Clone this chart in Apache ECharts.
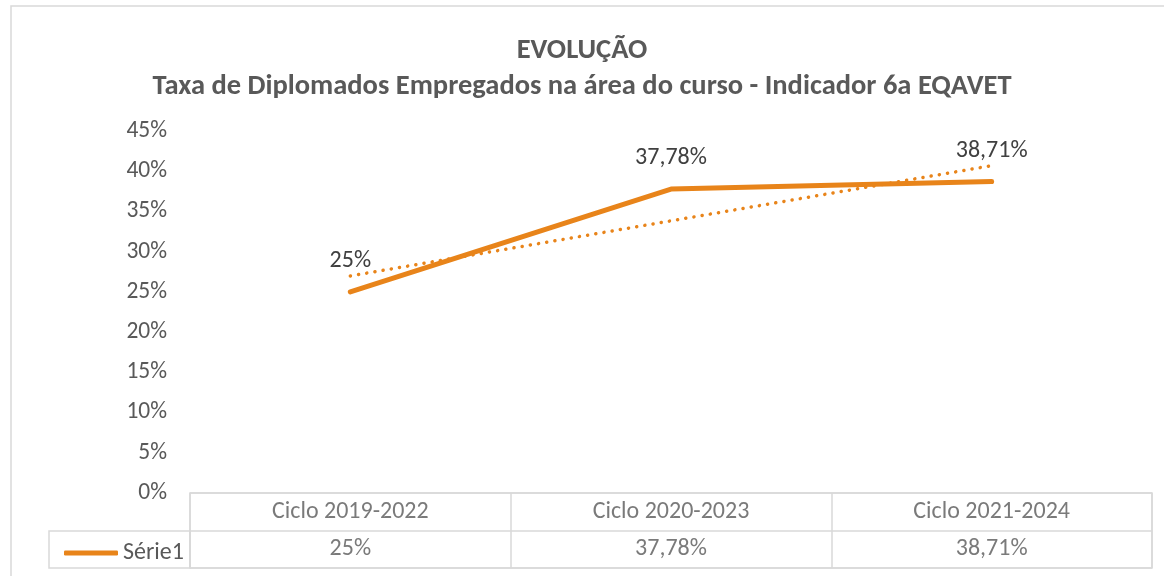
<!DOCTYPE html>
<html>
<head>
<meta charset="utf-8">
<title>Evolução</title>
<script src="https://cdn.jsdelivr.net/npm/echarts@6/dist/echarts.min.js"></script>
<style>
  html, body { margin: 0; padding: 0; background: #fff; }
  #main { width: 1164px; height: 576px; }
</style>
</head>
<body>
<div id="main"></div>
<script>
  // dados
  const categories = ['Ciclo 2019-2022', 'Ciclo 2020-2023', 'Ciclo 2021-2024'];
  const serie1 = [25, 37.78, 38.71];
  // linha de tendência (pontilhada)
  const trendValues = [26.98, 33.83, 40.69];
  const tableRows = ['cab', 'Série1'];
  const yMin = 0, yMax = 45, yStep = 5;

  const fontFamily = 'Carlito, Lato, "Open Sans", sans-serif';
  const textColor = '#595959';
  const orange = '#E8841A';
  const border = '#d9d9d9';

  function pct(v) {
    return String(v).replace('.', ',') + '%';
  }

  const chart = echarts.init(document.getElementById('main'));

  // células da tabela: linha de cabeçalho e linha de valores
  const headerCells = categories.map((c, i) => [i, 'cab', c]);
  const valueCells = serie1.map((v, i) => [i, 'Série1', pct(v)]);

  const option = {
    backgroundColor: '#fff',
    animation: false,
    textStyle: { fontFamily: fontFamily },
    title: [
      {
        text: 'EVOLUÇÃO',
        left: 'center',
        top: 31,
        textStyle: { fontFamily: fontFamily, fontSize: 28.5, fontWeight: 'bold', color: textColor }
      },
      {
        text: 'Taxa de Diplomados Empregados na área do curso - Indicador 6a EQAVET',
        left: 'center',
        top: 67,
        textStyle: { fontFamily: fontFamily, fontSize: 28.5, fontWeight: 'bold', color: textColor }
      }
    ],
    legend: {
      data: ['Série1'],
      left: 59,
      top: 536,
      icon: 'roundRect',
      itemWidth: 54,
      itemHeight: 5,
      itemGap: 4,
      textStyle: { fontFamily: fontFamily, fontSize: 24, color: textColor }
    },
    grid: [
      { left: 190, right: 12, top: 131, bottom: 83 },
      { left: 190, right: 12, top: 493, height: 75, show: true, borderColor: border, borderWidth: 1.5 }
    ],
    xAxis: [
      {
        gridIndex: 0,
        type: 'category',
        data: categories,
        boundaryGap: true,
        axisLine: { show: false },
        axisTick: { show: false },
        axisLabel: { show: false }
      },
      {
        gridIndex: 1,
        type: 'category',
        data: categories,
        boundaryGap: true,
        axisLine: { show: false },
        axisTick: { show: false },
        axisLabel: { show: false },
        splitLine: { show: true, lineStyle: { color: border, width: 1.5 } }
      }
    ],
    yAxis: [
      {
        gridIndex: 0,
        type: 'value',
        min: yMin,
        max: yMax,
        interval: yStep,
        axisLine: { show: false },
        axisTick: { show: false },
        splitLine: { show: false },
        axisLabel: {
          margin: 23,
          fontFamily: fontFamily,
          fontSize: 23.5,
          color: textColor,
          formatter: '{value}%'
        }
      },
      {
        gridIndex: 1,
        type: 'category',
        data: tableRows,
        inverse: true,
        boundaryGap: true,
        axisLine: { show: false },
        axisTick: { show: false },
        axisLabel: { show: false },
        splitLine: { show: true, lineStyle: { color: border, width: 1.5 } }
      }
    ],
    graphic: [
      {
        // moldura do gráfico
        type: 'rect',
        silent: true,
        shape: { x: 11, y: 6, width: 1170, height: 580 },
        style: { fill: 'none', stroke: border, lineWidth: 1.5 }
      },
      {
        // célula da legenda
        type: 'rect',
        silent: true,
        shape: { x: 49, y: 531, width: 141, height: 37 },
        style: { fill: 'none', stroke: border, lineWidth: 1.5 }
      }
    ],
    series: [
      {
        name: 'Série1',
        type: 'line',
        xAxisIndex: 0,
        yAxisIndex: 0,
        data: serie1,
        symbol: 'circle',
        symbolSize: 0,
        showSymbol: true,
        color: orange,
        lineStyle: { color: orange, width: 5, cap: 'round' },
        label: {
          show: true,
          position: 'top',
          distance: 19,
          fontFamily: fontFamily,
          fontSize: 24,
          color: '#404040',
          formatter: p => pct(p.value)
        },
        z: 3
      },
      {
        name: 'Tendência',
        type: 'line',
        xAxisIndex: 0,
        yAxisIndex: 0,
        data: trendValues,
        symbol: 'none',
        silent: true,
        lineStyle: { color: orange, width: 3.5, type: [0.1, 8.2], cap: 'round' },
        z: 2
      },
      {
        name: 'cabecalho',
        type: 'scatter',
        xAxisIndex: 1,
        yAxisIndex: 1,
        symbolSize: 0,
        data: headerCells,
        label: {
          show: true,
          position: 'inside',
          fontFamily: fontFamily,
          fontSize: 24,
          color: textColor,
          formatter: p => p.data[2]
        }
      },
      {
        name: 'valores',
        type: 'scatter',
        xAxisIndex: 1,
        yAxisIndex: 1,
        symbolSize: 0,
        data: valueCells,
        label: {
          show: true,
          position: 'inside',
          fontFamily: fontFamily,
          fontSize: 24,
          color: textColor,
          formatter: p => p.data[2]
        }
      }
    ]
  };

  chart.setOption(option);
</script>
</body>
</html>
